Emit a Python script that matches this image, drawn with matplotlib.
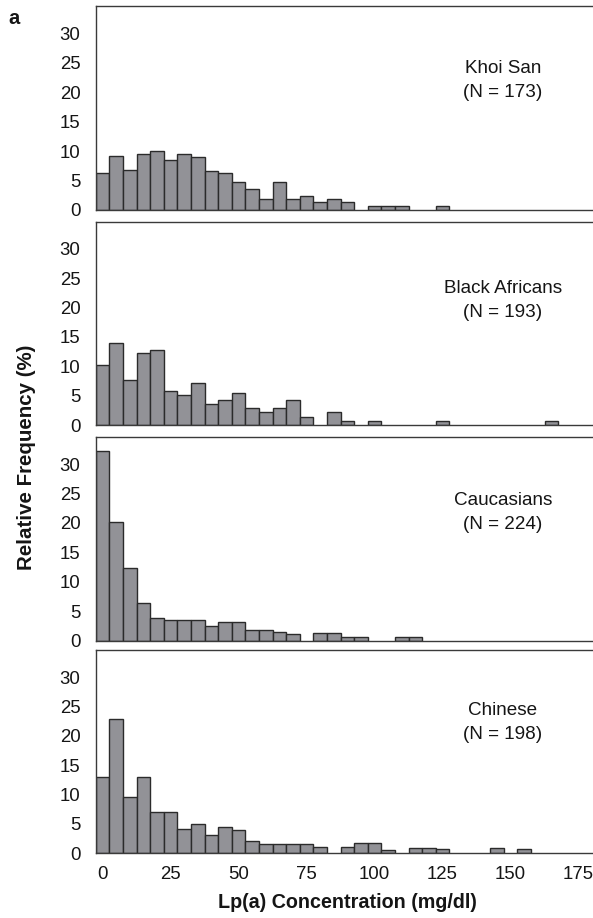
import numpy as np
import matplotlib
matplotlib.use("Agg")
import matplotlib.pyplot as plt

plt.rcParams['font.family'] = ['Liberation Sans', 'DejaVu Sans']

# Lp(a) bins of 5 mg/dl, starting at 0
bin_width = 5
n_bins = 34

# Relative frequency (%) per bin
khoi_san = [6.3, 9.1, 6.8, 9.5, 10.0, 8.5, 9.5, 9.0, 6.6, 6.3, 4.7, 3.6, 1.9, 4.8, 1.9,
            2.4, 1.4, 1.9, 1.4, 0, 0.65, 0.65, 0.65, 0, 0, 0.65, 0, 0, 0, 0, 0, 0, 0, 0]
black_africans = [10.3, 13.9, 7.7, 12.3, 12.7, 5.8, 5.1, 7.1, 3.6, 4.3, 5.5, 2.9, 2.3, 2.9,
                  4.3, 1.3, 0, 2.2, 0.76, 0, 0.76, 0, 0, 0, 0, 0.65, 0, 0, 0, 0, 0, 0, 0, 0.65]
caucasians = [32.2, 20.1, 12.3, 6.4, 3.8, 3.5, 3.5, 3.5, 2.4, 3.1, 3.1, 1.8, 1.8, 1.4, 1.1,
              0, 1.3, 1.3, 0.54, 0.54, 0, 0, 0.54, 0.54, 0, 0, 0, 0, 0, 0, 0, 0, 0, 0]
chinese = [13.0, 22.9, 9.5, 13.0, 7.1, 7.1, 4.2, 5.0, 3.1, 4.5, 4.0, 2.1, 1.5, 1.5, 1.5,
           1.5, 1.0, 0, 1.0, 1.7, 1.7, 0.6, 0, 0.9, 0.9, 0.7, 0, 0, 0, 0.9, 0, 0.7, 0, 0]

groups = ["Khoi San", "Black Africans", "Caucasians", "Chinese"]
sample_sizes = [173, 193, 224, 198]
series = [khoi_san, black_africans, caucasians, chinese]

y_ticks = [0, 5, 10, 15, 20, 25, 30]
x_ticks = [0, 25, 50, 75, 100, 125, 150, 175]

W, H = 593, 918
fig = plt.figure(figsize=(W / 100, H / 100), dpi=100)

# panel extents in pixels (top, bottom)
panels_px = [(6, 210), (222, 425), (437, 640.5), (650, 853.3)]
label_pos = [(0.696, 0.576), (0.67, 0.552), (0.69, 0.571), (0.704, 0.586)]
left_px = 95.7

bar_face = "#929297"
bar_edge = "#2b2b2b"
spine_col = "#3a3a3a"
text_col = "#151515"
fs_tick = 13.4
fs_group = 13.6

centers = np.arange(n_bins) * bin_width
for i, (top, bot) in enumerate(panels_px):
    ax = fig.add_axes([left_px / W, 1 - bot / H, 1 - left_px / W, (bot - top) / H])
    vals = np.asarray(series[i], dtype=float)
    mask = vals > 0
    ax.bar(centers[mask], vals[mask], width=bin_width, color=bar_face,
           edgecolor=bar_edge, linewidth=1.0, zorder=2)
    ax.set_xlim(-2.5, 180.3)
    ax.set_ylim(0, 34.6)
    ax.set_yticks(y_ticks)
    ax.set_yticklabels([str(t) for t in y_ticks])
    ax.tick_params(axis='y', length=0, labelsize=fs_tick, colors=text_col, pad=11)
    ax.tick_params(axis='x', length=0, labelsize=fs_tick, colors=text_col, pad=9)
    ax.spines['right'].set_visible(False)
    for s in ['left', 'top', 'bottom']:
        ax.spines[s].set_color(spine_col)
        ax.spines[s].set_linewidth(1.0)
    ax.set_xticks(x_ticks)
    if i < 3:
        ax.set_xticklabels([])
    else:
        ax.set_xticklabels([str(t) for t in x_ticks])
    ya, yb = label_pos[i]
    ax.text(0.819, ya, groups[i], transform=ax.transAxes, ha='center', va='center',
            fontsize=fs_group, color=text_col)
    ax.text(0.819, yb, f"(N = {sample_sizes[i]})", transform=ax.transAxes,
            ha='center', va='center', fontsize=fs_group, color=text_col)

fig.text(14 / W, 1 - 18 / H, "a", fontsize=14.5, fontweight='bold',
         ha='center', va='center', color=text_col)
fig.text(27 / W, 1 - 457 / H, "Relative Frequency (%)", rotation=90, fontsize=14.8,
         fontweight='bold', ha='center', va='center', color=text_col)
fig.text(347 / W, 1 - 902 / H, "Lp(a) Concentration (mg/dl)", fontsize=14.2,
         fontweight='bold', ha='center', va='center', color=text_col)

fig.savefig("out.png", dpi=100)
